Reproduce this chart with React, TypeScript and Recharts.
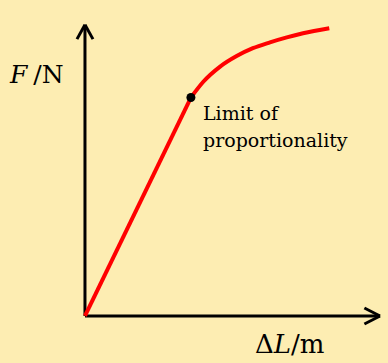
import { LineChart, Line, XAxis, YAxis, ReferenceLine, ReferenceDot } from 'recharts'

// extension (arbitrary units) vs force
const linearX = [0, 35.9]
const linearY = [0, 74.8]
const curveX = [35.9, 40.1, 45.8, 51.4, 56.9, 62.7, 68.4, 73.9, 82.8]
const curveY = [74.8, 80.2, 85.4, 89.0, 91.7, 93.7, 95.4, 96.8, 98.5]
const limitPoint = { x: 35.9, y: 74.8 }

const BG = '#fdedb2'
const W = 388
const H = 363

const data = [
  ...linearX.map((x, i) => ({ x, lin: linearY[i] })),
  ...curveX.map((x, i) => ({ x, curve: curveY[i] })),
]

const axisStyle = { stroke: '#000', strokeWidth: 3, ifOverflow: 'visible' as const }

export default function App() {
  return (
    <div style={{ position: 'fixed', left: 0, top: 0, width: W, height: H, background: BG }}>
      <LineChart width={W} height={H} data={data} margin={{ top: 0, right: 0, bottom: 0, left: 0 }}>
        <XAxis type="number" dataKey="x" domain={[-28.8, 102.7]} allowDataOverflow hide />
        <YAxis type="number" domain={[-16.1, 108.2]} allowDataOverflow hide />
        {/* axes with arrow heads */}
        <ReferenceLine segment={[{ x: 0, y: 0 }, { x: 100, y: 0 }]} {...axisStyle} />
        <ReferenceLine segment={[{ x: 0, y: 0 }, { x: 0, y: 99.7 }]} {...axisStyle} />
        <ReferenceLine segment={[{ x: 94.7, y: 2.74 }, { x: 100, y: 0 }]} {...axisStyle} />
        <ReferenceLine segment={[{ x: 94.7, y: -2.74 }, { x: 100, y: 0 }]} {...axisStyle} />
        <ReferenceLine segment={[{ x: -2.71, y: 94.8 }, { x: 0, y: 99.7 }]} {...axisStyle} />
        <ReferenceLine segment={[{ x: 2.71, y: 94.8 }, { x: 0, y: 99.7 }]} {...axisStyle} />
        <Line dataKey="lin" type="linear" stroke="#ff0000" strokeWidth={4} dot={false} activeDot={false} isAnimationActive={false} />
        <Line dataKey="curve" type="monotone" stroke="#ff0000" strokeWidth={4} dot={false} activeDot={false} isAnimationActive={false} />
        <ReferenceDot x={limitPoint.x} y={limitPoint.y} r={4.5} fill="#000" stroke="none" ifOverflow="visible" />
      </LineChart>
      <svg width={W} height={H} style={{ position: 'absolute', left: 0, top: 0, pointerEvents: 'none' }}>
        <g fontFamily="'DejaVu Serif', serif" fill="#000">
          <text x={10} y={83} fontSize={25}>
            <tspan fontStyle="italic">F</tspan>
            <tspan dx={6}>/N</tspan>
          </text>
          <text x={255} y={353} fontSize={26}>
            Δ<tspan fontStyle="italic">L</tspan>/m
          </text>
          <text x={203} y={120} fontSize={19}>Limit of</text>
          <text x={203} y={147} fontSize={19}>proportionality</text>
        </g>
      </svg>
    </div>
  )
}
